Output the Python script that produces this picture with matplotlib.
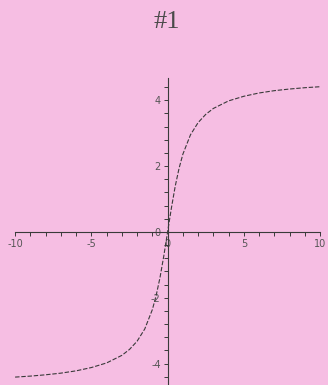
import matplotlib
matplotlib.use("Agg")
import matplotlib.pyplot as plt
from matplotlib.ticker import MultipleLocator

# curve samples
x_vals = [-10, -9, -8, -7, -6, -5, -4, -3, -2.5, -2, -1.5, -1, -0.75, -0.5, -0.25,
          0, 0.25, 0.5, 0.75, 1, 1.5, 2, 2.5, 3, 4, 5, 6, 7, 8, 9, 10]
y_vals = [-4.41, -4.38, -4.34, -4.29, -4.22, -4.12, -3.98, -3.75, -3.57, -3.32, -2.95,
          -2.36, -1.93, -1.39, -0.73,
          0.0, 0.73, 1.39, 1.93, 2.36, 2.95, 3.32, 3.57, 3.75, 3.98, 4.12, 4.22, 4.29,
          4.34, 4.38, 4.41]

x_ticks = [-10, -5, 0, 5, 10]
y_ticks = [-4, -2, 0, 2, 4]
title = "#1"

paper = "#f6bee3"
ink = "#3a3a3a"

fig = plt.figure(figsize=(3.28, 3.85), dpi=100, facecolor=paper)
fig.text(0.508, 0.942, title, ha="center", va="center", fontsize=19,
         family="Liberation Serif", color="#4a4a4a")

ax = fig.add_axes([0.046, 0.0, 0.930, 0.797])
ax.set_facecolor(paper)
ax.set_xlim(-10, 10)
ax.set_ylim(-4.65, 4.67)

ax.plot(x_vals, y_vals, color=ink, lw=0.8, linestyle=(0, (4, 1.6)))

# axes cross at the origin
for side in ("top", "right"):
    ax.spines[side].set_visible(False)
ax.spines["left"].set_position(("data", 0))
ax.spines["bottom"].set_position(("data", 0))
for side in ("left", "bottom"):
    ax.spines[side].set_color(ink)
    ax.spines[side].set_linewidth(0.8)

ax.set_xticks(x_ticks)
ax.set_yticks(y_ticks)
ax.set_xticklabels([str(v) for v in x_ticks])
ax.set_yticklabels([str(v) for v in y_ticks])
ax.xaxis.set_minor_locator(MultipleLocator(1))
ax.yaxis.set_minor_locator(MultipleLocator(0.4))
ax.tick_params(axis="both", which="both", direction="out", color=ink,
               width=0.7, labelsize=7, labelcolor="#555555")
ax.tick_params(axis="both", which="major", length=3, pad=2)
ax.tick_params(axis="both", which="minor", length=3)

fig.savefig("out.png", dpi=100, facecolor=paper)
